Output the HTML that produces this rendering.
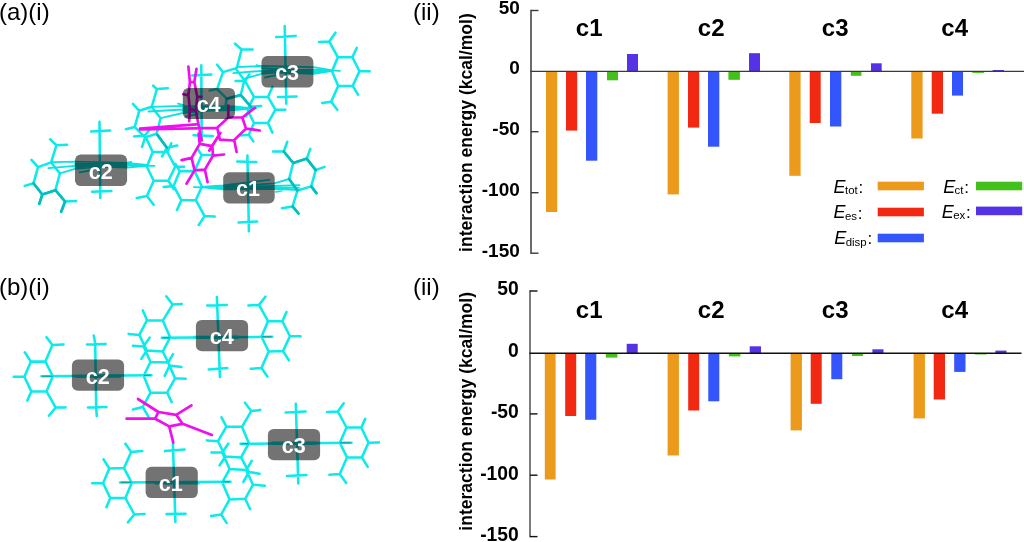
<!DOCTYPE html>
<html><head><meta charset="utf-8"><title>figure</title>
<style>
html,body{margin:0;padding:0;background:#fff;}
body{width:1024px;height:542px;overflow:hidden;font-family:"Liberation Sans",sans-serif;}
svg{display:block}
text{font-family:"Liberation Sans",sans-serif;filter:grayscale(1)}
.b{font-weight:bold}
.lab{font-size:24px;fill:#000}
.tick{font-size:18px;font-weight:bold;fill:#000;text-anchor:end}
.grp{font-size:24px;font-weight:bold;fill:#000;text-anchor:middle}
.yl{font-size:17.55px;font-weight:bold;fill:#000;text-anchor:middle}
.leg{font-size:18px;font-style:italic;fill:#000}
.sub{font-size:11.4px;font-style:normal}
.box{fill:#555;fill-opacity:.8}
.bt{font-size:21.5px;font-weight:bold;fill:#fff;text-anchor:middle}
.cy{stroke:#0ceaea;stroke-width:2.55;fill:none;stroke-linecap:round;stroke-linejoin:round}
.rb{stroke:#0ce2e2;stroke-width:1.85;fill:none;stroke-linecap:round;stroke-linejoin:round}
.cl{stroke:#0ceaea;stroke-width:3.4;fill:none;stroke-linecap:butt}
.dc{stroke:#079c9c;stroke-width:1.1;fill:none;stroke-linecap:round}
.dk{stroke:#07bcbc;stroke-width:2.65;fill:none;stroke-linecap:round;stroke-linejoin:round}
.mg{stroke:#ee10ee;stroke-width:2.7;fill:none;stroke-linecap:round;stroke-linejoin:round}
</style></head><body>
<svg width="1024" height="542" viewBox="0 0 1024 542">
<rect width="1024" height="542" fill="#fff"/>

<rect x="546.0" y="71.4" width="11.2" height="140.6" fill="#ec9a1b"/>
<rect x="566.0" y="71.4" width="11.2" height="59.2" fill="#f22912"/>
<rect x="586.0" y="71.4" width="11.3" height="89.3" fill="#3355fb"/>
<rect x="607.0" y="71.4" width="11.0" height="8.9" fill="#43c019"/>
<rect x="627.0" y="54.0" width="11.0" height="17.4" fill="#5532e6"/>
<rect x="667.6" y="71.4" width="11.3" height="123.0" fill="#ec9a1b"/>
<rect x="688.0" y="71.4" width="11.2" height="56.2" fill="#f22912"/>
<rect x="708.0" y="71.4" width="11.3" height="75.3" fill="#3355fb"/>
<rect x="728.4" y="71.4" width="11.5" height="8.4" fill="#43c019"/>
<rect x="749.0" y="53.2" width="11.0" height="18.2" fill="#5532e6"/>
<rect x="789.3" y="71.4" width="11.3" height="104.4" fill="#ec9a1b"/>
<rect x="809.7" y="71.4" width="11.0" height="51.6" fill="#f22912"/>
<rect x="830.0" y="71.4" width="11.3" height="55.1" fill="#3355fb"/>
<rect x="850.8" y="71.4" width="10.6" height="4.4" fill="#43c019"/>
<rect x="871.0" y="63.3" width="10.7" height="8.1" fill="#5532e6"/>
<rect x="911.3" y="71.4" width="11.3" height="67.1" fill="#ec9a1b"/>
<rect x="931.7" y="71.4" width="11.3" height="42.3" fill="#f22912"/>
<rect x="952.0" y="71.4" width="11.0" height="24.2" fill="#3355fb"/>
<rect x="972.3" y="71.4" width="11.6" height="1.5" fill="#43c019"/>
<rect x="992.6" y="70.0" width="11.4" height="1.4" fill="#5532e6"/>
<path d="M531.0 9.8V253.89999999999998" stroke="#3a3a3a" stroke-width="1.5"/>
<path d="M531.0 10.5H538.5" stroke="#3a3a3a" stroke-width="1.4"/>
<path d="M531.0 131.7H538.5" stroke="#3a3a3a" stroke-width="1.4"/>
<path d="M531.0 192.7H538.5" stroke="#3a3a3a" stroke-width="1.4"/>
<path d="M531.0 253.2H538.5" stroke="#3a3a3a" stroke-width="1.4"/>
<path d="M530.25 71.4H1024" stroke="#3a3a3a" stroke-width="1.4"/>
<text class="tick" style="font-size:19px" x="519.8" y="14.1">50</text>
<text class="tick" style="font-size:19px" x="519.8" y="74.4">0</text>
<text class="tick" style="font-size:19px" x="519.8" y="135.3">-50</text>
<text class="tick" style="font-size:19px" x="519.8" y="196.3">-100</text>
<text class="tick" style="font-size:19px" x="519.8" y="256.8">-150</text>
<text class="grp" x="589.2" y="35.5">c1</text>
<text class="grp" x="711.2" y="35.5">c2</text>
<text class="grp" x="835.2" y="35.5">c3</text>
<text class="grp" x="954.7" y="35.5">c4</text>
<text class="yl" transform="translate(471.8,132.6) rotate(-90)">interaction energy (kcal/mol)</text>
<rect x="544.8" y="353.2" width="10.8" height="126.3" fill="#ec9a1b"/>
<rect x="565.2" y="353.2" width="11.0" height="62.8" fill="#f22912"/>
<rect x="585.2" y="353.2" width="11.1" height="66.6" fill="#3355fb"/>
<rect x="605.8" y="353.2" width="11.6" height="4.4" fill="#43c019"/>
<rect x="626.7" y="343.8" width="11.0" height="9.4" fill="#5532e6"/>
<rect x="667.6" y="353.2" width="11.3" height="102.3" fill="#ec9a1b"/>
<rect x="688.2" y="353.2" width="11.0" height="57.3" fill="#f22912"/>
<rect x="708.3" y="353.2" width="11.0" height="48.1" fill="#3355fb"/>
<rect x="728.9" y="353.2" width="11.5" height="3.2" fill="#43c019"/>
<rect x="749.7" y="346.3" width="11.3" height="6.9" fill="#5532e6"/>
<rect x="790.6" y="353.2" width="11.3" height="77.2" fill="#ec9a1b"/>
<rect x="810.7" y="353.2" width="11.0" height="50.6" fill="#f22912"/>
<rect x="831.3" y="353.2" width="11.0" height="26.0" fill="#3355fb"/>
<rect x="852.0" y="353.2" width="10.9" height="2.8" fill="#43c019"/>
<rect x="872.4" y="349.3" width="11.1" height="3.9" fill="#5532e6"/>
<rect x="913.6" y="353.2" width="11.3" height="65.2" fill="#ec9a1b"/>
<rect x="933.7" y="353.2" width="11.3" height="46.3" fill="#f22912"/>
<rect x="954.2" y="353.2" width="11.3" height="18.7" fill="#3355fb"/>
<rect x="974.8" y="353.2" width="11.6" height="1.3" fill="#43c019"/>
<rect x="995.4" y="350.6" width="11.1" height="2.6" fill="#5532e6"/>
<path d="M530.0 290.3V537.3000000000001" stroke="#111" stroke-width="1.1"/>
<path d="M530.0 291H537.5" stroke="#111" stroke-width="1.4"/>
<path d="M530.0 413.9H537.5" stroke="#111" stroke-width="1.4"/>
<path d="M530.0 475.2H537.5" stroke="#111" stroke-width="1.4"/>
<path d="M530.0 536.6H537.5" stroke="#111" stroke-width="1.4"/>
<path d="M529.45 353.2H1021.5" stroke="#111" stroke-width="1.5"/>
<text class="tick" style="font-size:19.3px" x="518.8" y="295.3">50</text>
<text class="tick" style="font-size:19.3px" x="518.8" y="356.8">0</text>
<text class="tick" style="font-size:19.3px" x="518.8" y="418.2">-50</text>
<text class="tick" style="font-size:19.3px" x="518.8" y="479.5">-100</text>
<text class="tick" style="font-size:19.3px" x="518.8" y="540.9">-150</text>
<text class="grp" x="589.2" y="318.2">c1</text>
<text class="grp" x="711.2" y="318.2">c2</text>
<text class="grp" x="835.2" y="318.2">c3</text>
<text class="grp" x="954.7" y="318.2">c4</text>
<text class="yl" transform="translate(471.8,411.3) rotate(-90)">interaction energy (kcal/mol)</text>
<text class="lab" x="-1" y="20">(a)(i)</text><text class="lab" x="413" y="20">(ii)</text>
<text class="lab" x="-1" y="294.8">(b)(i)</text><text class="lab" x="413" y="294.8">(ii)</text>
<text class="leg" x="833.6" y="192.8">E<tspan class="sub" dx="-0.6" dy="1.5">tot</tspan><tspan dx="0.8" dy="-1.3" style="font-style:normal;font-size:17px">:</tspan></text>
<text class="leg" x="833.6" y="218.3">E<tspan class="sub" dx="-0.6" dy="1.5">es</tspan><tspan dx="0.8" dy="-1.3" style="font-style:normal;font-size:17px">:</tspan></text>
<text class="leg" x="834.3" y="244.2">E<tspan class="sub" dx="-0.6" dy="1.5">disp</tspan><tspan dx="0.8" dy="-1.3" style="font-style:normal;font-size:17px">:</tspan></text>
<text class="leg" x="943.2" y="192.7">E<tspan class="sub" dx="-0.6" dy="1.5">ct</tspan><tspan dx="0.8" dy="-1.3" style="font-style:normal;font-size:17px">:</tspan></text>
<text class="leg" x="941.8" y="217.6">E<tspan class="sub" dx="-0.6" dy="1.5">ex</tspan><tspan dx="0.8" dy="-1.3" style="font-style:normal;font-size:17px">:</tspan></text>
<rect x="877.7" y="181.7" width="46.2" height="8.6" fill="#ec9a1b"/>
<rect x="877.7" y="207.7" width="46.2" height="8.6" fill="#f22912"/>
<rect x="877.7" y="233.7" width="46.2" height="8.6" fill="#3355fb"/>
<rect x="976" y="181.7" width="46.2" height="8.6" fill="#43c019"/>
<rect x="976" y="206.6" width="46.2" height="8.6" fill="#5532e6"/>
<path class="cy" d="M38.0 167.1L51.1 162.4L59.9 173.5L55.4 190.2L42.3 194.5L33.5 183.3L38.0 167.1M38.0 167.1L31.5 159.9M33.5 183.3L24.7 185.9M42.3 194.5L39.3 203.8M51.1 162.4L56.5 145.2L50.1 139.3M56.5 145.2L67.1 144.8M55.4 190.2L65.1 201.5L76.1 200.9M65.1 201.5L61.2 211.7M99.5 121.7L100.3 198.0M91.1 131.5L110.1 130.5M92.1 191.7L111.3 191.1M146.9 166.7L152.7 152.0L167.4 152.0L175.2 166.7L168.4 180.8L153.7 180.8L146.9 166.7M175.2 166.7L184.0 166.7M167.4 152.0L171.3 143.2M168.4 180.8L173.8 189.2M152.7 152.0L144.9 135.4L134.1 136.4M144.9 135.4L150.4 128.6M153.7 180.8L146.9 196.0L136.7 198.0M146.9 196.0L153.7 204.8M139.2 110.8L151.7 106.8L160.6 118.2L156.6 133.7L145.1 137.4L134.7 127.0L139.2 110.8M139.2 110.8L133.0 103.9M134.7 127.0L125.9 129.2M151.7 106.8L156.9 89.1L153.2 85.7M156.9 89.1L167.9 88.2M156.6 133.7L166.9 147.7L177.2 145.5M166.9 147.7L162.0 156.5M145.1 137.4L142.1 146.9M201.3 65.2L201.7 139.6M192.1 75.5L211.3 74.5M193.6 135.2L212.8 136.0M247.4 109.7L254.0 96.9L268.0 96.9L275.4 109.7L268.0 123.0L254.0 123.0L247.4 109.7M268.0 96.9L272.4 86.9M275.4 109.7L285.3 109.7M268.0 123.0L272.4 132.6M254.0 96.9L245.1 81.0L235.6 81.0M245.1 81.0L249.3 74.3M254.0 123.0L248.8 134.8L239.2 135.5M248.8 134.8L253.3 141.4M223.0 72.1L235.6 68.4L244.4 80.2L240.7 95.0L226.7 98.7L217.1 89.1L223.0 72.1M223.0 72.1L217.1 64.7M217.1 89.1L209.7 90.6M226.7 98.7L225.2 107.5M240.7 95.0L251.0 106.8L261.1 106.0M251.0 106.8L245.9 116.4M236.9 67.8L241.6 49.5L235.1 43.7M241.6 49.5L252.6 49.5M284.7 26.0L286.3 103.6M276.2 37.1L295.7 35.9M278.0 96.9L296.6 96.5M332.0 71.3L337.8 57.2L352.4 57.2L359.5 71.3L352.7 85.9L338.2 85.9L332.0 71.3M359.5 71.3L369.7 71.3M352.4 57.2L356.8 47.8M352.7 85.9L358.0 94.7M337.8 57.2L329.3 41.6L319.1 41.9M329.3 41.6L335.5 32.7M338.2 85.9L331.1 101.8L322.3 103.1M331.1 101.8L337.3 109.8M247.4 155.6L248.9 231.2M237.3 161.6L256.3 162.1M238.6 222.4L257.2 221.5M293.2 163.0L306.8 158.6L315.7 170.1L311.2 186.4L297.4 190.5L289.1 179.0L293.2 163.0M306.8 158.6L310.3 148.9M315.7 170.1L324.5 166.9M311.2 186.4L316.5 193.2M293.2 163.0L283.8 151.5L273.1 151.5M283.8 151.5L287.3 141.8M297.4 190.5L292.6 206.4L282.0 208.2M292.6 206.4L298.5 213.5M173.6 185.9L179.8 171.1L194.6 171.1L201.9 186.6L195.8 200.2L181.3 200.2L173.6 185.9M173.6 185.9L163.6 186.9M181.3 200.2L176.9 210.2M179.8 171.1L175.4 163.8M195.8 200.2L204.6 216.1L214.6 216.6M204.6 216.1L198.7 225.0M194.6 171.1L201.7 154.9L210.8 154.9M201.7 154.9L197.2 148.6"/>
<path class="rb" d="M51.4 162.2L75.0 161.6L127.1 162.8L146.7 165.0M48.4 168.2L75.0 165.8L127.1 165.2L154.5 165.8M59.8 173.3L75.0 168.8L100.0 166.5L127.1 167.6L146.7 165.8M75.0 167.0L127.1 166.5M79.6 172.4L92.7 170.0M75.0 164.0L127.1 164.0L146.7 165.4M127.0 162.6L131.0 161.8M236.4 67.2L261.6 66.0L313.5 67.2L331.1 70.2M233.4 73.2L261.6 70.8L313.5 69.6L340.0 70.8M244.8 78.6L261.6 73.8L287.0 71.5L313.5 72.0L331.1 70.8M261.6 72.0L313.5 73.8L331.1 71.2M265.0 77.5L277.0 75.0M261.6 68.4L313.5 70.5M256.5 65.2L261.5 66.6M151.7 106.8L182.8 105.8L235.0 106.4L247.4 108.0M148.5 111.5L182.8 109.5L235.0 108.4L256.0 108.4M160.6 118.2L182.8 113.0L210.0 110.5L235.0 110.2L247.4 108.8M182.8 111.3L235.0 109.4M186.0 116.5L198.0 114.0M182.8 107.8L235.0 107.4L247.4 108.3M178.0 103.6L183.5 105.2M201.8 187.0L223.2 185.5L269.5 179.8M201.8 187.0L223.2 186.8L274.3 183.4L289.1 179.0M194.0 187.2L223.2 188.0L274.3 185.9L299.5 185.2M201.8 187.3L223.2 189.3L274.3 188.8L298.9 190.0M201.8 187.1L223.2 187.4L274.6 187.3L299.0 187.6M276.0 191.8L282.0 190.6"/>
<path class="dk" d="M33.5 183.3L42.3 194.5L55.4 190.2L65.1 201.5M42.3 194.5L39.3 203.8M65.1 201.5L61.2 211.7M283.8 151.5L293.2 163.0L306.8 158.6L315.7 170.1M289.1 179.0L297.4 190.5M311.2 186.4L316.5 193.2M292.6 206.4L298.5 213.5M157.2 134.6L166.9 147.7M226.7 98.7L240.7 95.0L251.0 106.8"/>
<path class="mg" d="M188.4 66.6L189.9 82.1L188.4 95.4L189.9 108.7L189.2 121.2M196.5 68.8L194.3 82.1L197.3 96.9L195.8 110.9L199.5 129.3L201.7 140.4M189.9 82.1L194.3 82.1M189.9 108.7L195.8 110.9M188.4 95.4L183.3 94.2M197.3 96.9L201.3 96.9M140.1 128.7L196.5 124.3M140.1 129.5L217.2 127.8M228.3 105.7L228.3 117.5L242.3 117.5L246.0 128.6L233.7 140.5L219.9 139.6L217.2 127.8L228.3 117.5M242.3 117.5L254.8 107.9M246.0 128.6L259.7 130.5M199.7 143.8L212.3 146.1L213.0 155.6L204.9 169.7L194.6 170.4L191.6 157.9L199.7 143.8M191.6 157.9L181.6 160.1M213.0 155.6L224.1 154.5M194.6 170.4L186.5 183.7M204.9 169.7L207.6 182.2M199.7 143.8L198.7 133.5M212.3 146.1L220.4 132.8M209.3 150.5L217.9 136.8M234.4 140.9L236.6 152.0"/>
<path class="cy" d="M24.4 376.7L30.9 361.6L45.4 361.6L52.8 376.3L46.5 391.4L31.3 391.4L24.4 376.7M143.7 375.7L150.5 362.0L168.1 362.6L175.0 378.3L167.2 392.7L150.5 392.7L143.7 375.7M24.4 376.7L13.7 376.7M30.9 361.6L24.8 352.3M31.3 391.4L27.4 400.5M45.4 361.6L52.4 345.0L46.5 337.2M52.4 345.0L63.5 344.4M46.5 391.4L55.7 407.6L65.5 407.4M55.7 407.6L48.9 415.8M41.4 376.3L151.5 375.3M93.8 335.6L95.2 343.5L96.2 408.0L96.8 416.2M87.0 344.4L105.6 343.9M88.0 407.4L106.5 407.0M175.0 378.3L185.7 378.7M168.1 362.6L173.0 354.2M167.2 392.7L171.7 402.1M150.5 362.0L143.7 346.4L132.9 345.8M143.7 346.4L149.6 337.6M150.5 392.7L142.7 407.0L132.9 409.5M142.7 407.0L148.6 416.8M139.3 334.9L147.1 320.2L162.8 320.6L170.2 337.4L162.8 351.5L146.8 350.5L139.3 334.9M261.5 336.8L268.0 321.2L282.4 321.2L289.9 336.2L283.0 351.1L268.7 351.5L261.5 336.8M139.3 334.9L128.6 333.9M147.1 320.2L142.8 310.4M146.8 350.5L141.3 358.9M162.8 320.6L172.6 304.6L166.3 296.3M172.6 304.6L181.9 304.0M162.8 351.5L169.6 365.5L181.4 367.1M169.6 365.5L164.7 375.9M161.8 337.8L272.3 336.8M216.9 297.1L219.9 376.9M207.2 305.5L226.7 304.9M208.7 369.5L227.3 368.1M289.9 336.2L300.6 336.2M282.4 321.2L286.5 312.0M283.0 351.1L288.9 360.3M268.0 321.2L259.0 304.9L248.4 305.5M259.0 304.9L265.4 296.7M268.7 351.5L261.5 368.1L250.8 368.7M261.5 368.1L267.4 376.5M248.9 443.2L242.0 426.8L226.4 426.6L218.0 441.2L225.4 456.5L241.1 457.4L248.9 443.2M339.8 442.8L346.6 427.5L361.3 427.5L368.5 442.8L361.9 457.4L347.0 457.4L339.8 442.8M218.0 441.2L206.8 440.4M226.4 426.6L221.5 417.4M225.4 456.5L219.6 465.3M242.0 426.8L251.2 411.1L245.0 402.7M251.2 411.1L260.2 409.9M241.1 457.4L248.9 472.1L259.6 473.7M248.9 472.1L243.4 481.9M240.5 443.8L351.5 442.8M295.8 403.7L298.3 483.5M285.6 412.5L305.6 411.5M287.0 476.0L306.5 475.0M368.5 442.8L378.9 442.4M361.3 427.5L365.2 418.9M361.9 457.4L367.7 466.8M346.6 427.5L337.8 411.5L327.1 411.9M337.8 411.5L343.7 403.3M347.0 457.4L339.8 474.1L329.4 474.7M339.8 474.1L346.2 482.9M103.1 483.2L109.3 468.5L124.0 468.1L131.8 482.8L125.4 498.0L110.3 498.0L103.1 483.2M222.3 482.4L229.6 469.1L246.2 470.1L253.0 484.7L245.2 498.8L229.6 499.4L222.3 482.4M103.1 483.2L92.1 483.2M109.3 468.5L103.5 459.3M110.3 498.0L106.4 507.2M124.0 468.1L131.2 451.9L125.4 443.7M131.2 451.9L142.2 451.1M125.4 498.0L134.3 514.5L144.5 514.1M134.3 514.5L127.9 522.3M120.1 482.4L230.5 481.8M172.9 442.7L175.4 521.9M165.0 451.1L184.6 449.6M166.6 514.1L185.6 513.7M253.0 484.7L264.8 485.7M246.2 470.1L251.7 460.9M245.2 498.8L250.1 509.2M229.6 469.1L222.3 452.5L211.4 452.5M222.3 452.5L228.2 443.7M229.6 499.4L221.2 514.5L211.0 516.0M221.2 514.5L226.6 522.9"/>
<path class="cl" d="M75.5 376.4L121.0 376.1M193.0 337.4L238.7 337.2M271.6 443.3L317.1 443.1M154.4 482.9L199.7 482.7"/>
<path class="dc" d="M42.6 376.3L52.0 376.2M144.5 375.3L150.3 375.3M163.0 337.8L169.4 337.7M262.3 336.8L271.1 336.8M241.6 443.8L248.1 443.7M340.6 442.8L350.3 442.8M121.3 482.4L131.0 482.3M223.1 481.8L229.4 481.8"/>
<path class="mg" d="M158.4 412.0L176.2 414.9L182.6 423.8L169.2 426.4L155.2 418.7L158.4 412.0M158.4 412.0L138.0 399.0M176.2 414.9L191.5 405.4M182.6 423.8L211.9 434.9M169.2 426.4L173.3 442.6M155.2 418.7L126.6 418.7"/>
<rect x="75.0" y="154.6" width="52.1" height="31.5" rx="5.8" fill="#000" fill-opacity="0.55"/>
<text class="bt" x="100.8" y="178.7">c2</text>
<rect x="182.8" y="87.9" width="52.2" height="31.0" rx="5.8" fill="#000" fill-opacity="0.55"/>
<text class="bt" x="208.6" y="111.7">c4</text>
<rect x="261.5" y="56.1" width="51.9" height="31.5" rx="5.8" fill="#000" fill-opacity="0.55"/>
<text class="bt" x="287.1" y="80.1">c3</text>
<rect x="223.2" y="172.3" width="51.5" height="31.1" rx="5.8" fill="#000" fill-opacity="0.55"/>
<text class="bt" x="247.9" y="196.2">c1</text>
<rect x="71.9" y="359.6" width="52.2" height="31.2" rx="5.8" fill="#000" fill-opacity="0.55"/>
<text class="bt" x="97.7" y="383.5">c2</text>
<rect x="195.9" y="319.9" width="52.2" height="31.3" rx="5.8" fill="#000" fill-opacity="0.55"/>
<text class="bt" x="221.7" y="343.8">c4</text>
<rect x="267.9" y="428.9" width="52.2" height="31.3" rx="5.8" fill="#000" fill-opacity="0.55"/>
<text class="bt" x="293.7" y="452.8">c3</text>
<rect x="145.6" y="466.8" width="52.2" height="31.3" rx="5.8" fill="#000" fill-opacity="0.55"/>
<text class="bt" x="170.7" y="490.8">c1</text>
</svg></body></html>
